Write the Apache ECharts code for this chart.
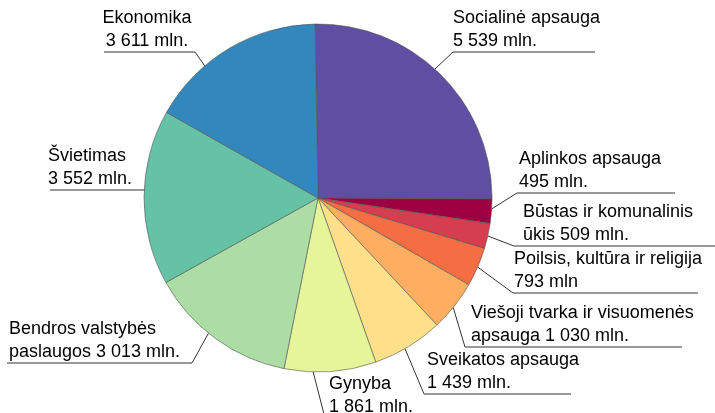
<!DOCTYPE html>
<html>
<head>
<meta charset="utf-8">
<script src="https://cdn.jsdelivr.net/npm/echarts@6/dist/echarts.min.js"></script>
<style>html,body{margin:0;padding:0;background:#fff}#c{width:715px;height:413px}</style>
</head>
<body>
<div id="c"></div>
<script>
const categories = ['Socialinė apsauga', 'Aplinkos apsauga', 'Būstas ir komunalinis ūkis', 'Poilsis, kultūra ir religija', 'Viešoji tvarka ir visuomenės apsauga', 'Sveikatos apsauga', 'Gynyba', 'Bendros valstybės paslaugos', 'Švietimas', 'Ekonomika'];
const values = [5539, 495, 509, 793, 1030, 1439, 1861, 3013, 3552, 3611];
const labelTexts = ['Socialinė apsauga\n5 539 mln.', 'Aplinkos apsauga\n495 mln.', 'Būstas ir komunalinis\nūkis 509 mln.', 'Poilsis, kultūra ir religija\n793 mln', 'Viešoji tvarka ir visuomenės\napsauga 1 030 mln.', 'Sveikatos apsauga\n1 439 mln.', 'Gynyba\n1 861 mln.', 'Bendros valstybės\npaslaugos 3 013 mln.', 'Švietimas\n3 552 mln.', 'Ekonomika\n3 611 mln.'];
const colors = ['#5e4fa2', '#9e0142', '#d53e4f', '#f46d43', '#fdae61', '#fee08b', '#e6f598', '#abdda4', '#66c2a5', '#3288bd'];

// label layout (pixels): text x, underline y, align, leader anchor angle (deg), elbow x, line end x
const CX = 318, CY = 198, R = 174;
const labelPos = [
  {x: 453, y: 52,  align: 'left',   ang: 47.8,   ex: 453, end: 595},
  {x: 519, y: 193, align: 'left',   ang: -3.6,   ex: 517, end: 675},
  {x: 523, y: 246, align: 'left',   ang: -12.6,  ex: 514, end: 715},
  {x: 514, y: 293, align: 'left',   ang: -23.4,  ex: 513, end: 698},
  {x: 471, y: 347, align: 'left',   ang: -39,    ex: 465, end: 682},
  {x: 427, y: 394, align: 'left',   ang: -60,    ex: 424, end: 571},
  {x: 329, y: 418, align: 'left',   ang: -91.6,  ex: 325, end: 420},
  {x: 9,   y: 363, align: 'left',   ang: -129,   ex: 192, end: 7},
  {x: 48,  y: 190, align: 'left',   ang: 177.7,  ex: 145, end: 50},
  {x: 147, y: 52,  align: 'center', ang: 130.6,  ex: 195, end: 104}
];

const chart = echarts.init(document.getElementById('c'), null, {renderer: 'canvas'});
chart.setOption({
  animation: false,
  series: [{
    type: 'pie',
    center: [CX, CY],
    radius: R,
    startAngle: 91,
    clockwise: true,
    data: categories.map((n, i) => ({name: n, value: values[i], itemStyle: {color: colors[i]}})),
    itemStyle: {borderColor: '#555', borderWidth: 0.6},
    label: {
      show: true,
      position: 'outside',
      alignTo: 'none',
      overflow: 'none',
      formatter: p => labelTexts[p.dataIndex],
      fontFamily: 'Liberation Sans, Arial, sans-serif',
      fontSize: 18,
      lineHeight: 23,
      color: '#000'
    },
    labelLine: {show: true, length: 10, length2: 10, lineStyle: {color: '#333', width: 1}},
    labelLayout: function (params) {
      const L = labelPos[params.dataIndex];
      const a = L.ang * Math.PI / 180;
      const start = [CX + R * Math.cos(a), CY - R * Math.sin(a)];
      return {
        x: L.x,
        y: L.y + 1,
        align: L.align,
        verticalAlign: 'bottom',
        width: 260,
        labelLinePoints: [start, [L.ex, L.y], [L.end, L.y]]
      };
    },
    emphasis: {disabled: true}
  }]
});
</script>
</body>
</html>
